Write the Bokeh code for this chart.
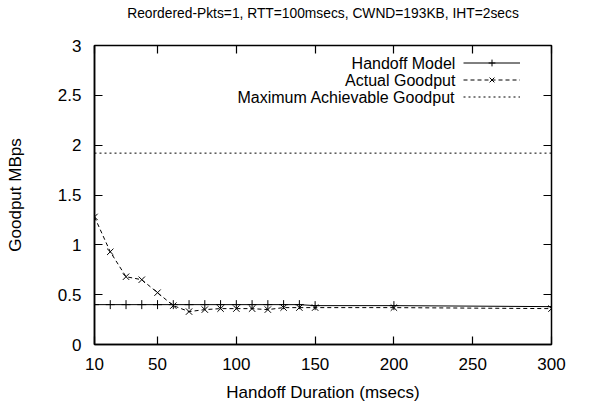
from bokeh.plotting import figure
from bokeh.models import FixedTicker, LinearAxis, Legend, LegendItem, Range1d, Label
from bokeh.embed import file_html
from bokeh.resources import INLINE

handoff_ms = [10, 20, 30, 40, 50, 60, 70, 80, 90, 100, 110, 120, 130, 140, 150, 200, 300]
model_goodput = [0.40, 0.40, 0.40, 0.40, 0.40, 0.40, 0.40, 0.40, 0.40, 0.40, 0.40, 0.40, 0.40, 0.40, 0.39, 0.39, 0.38]
actual_goodput = [1.28, 0.93, 0.68, 0.65, 0.52, 0.39, 0.33, 0.35, 0.36, 0.36, 0.36, 0.35, 0.37, 0.37, 0.37, 0.37, 0.36]
max_goodput = 1.92
x_ticks = [10, 50, 100, 150, 200, 250, 300]
y_ticks = [0, 0.5, 1, 1.5, 2, 2.5, 3]
y_tick_labels = ["0", "0.5", "1", "1.5", "2", "2.5", "3"]
series_names = ["Handoff Model", "Actual Goodput", "Maximum Achievable Goodput"]
title_text = "Reordered-Pkts=1, RTT=100msecs, CWND=193KB, IHT=2secs"

FONT = "Liberation Sans"

p = figure(width=595, height=406, output_backend="svg", toolbar_location=None,
           x_range=Range1d(10, 300), y_range=Range1d(0, 3),
           min_border_left=94, min_border_right=44, min_border_top=45, min_border_bottom=62)
p.title = None
p.grid.visible = False
p.outline_line_color = "black"
p.outline_line_width = 1.5
p.background_fill_color = "white"
p.border_fill_color = "white"

p.xaxis.ticker = FixedTicker(ticks=x_ticks)
p.yaxis.ticker = FixedTicker(ticks=y_ticks)
p.yaxis.major_label_overrides = {t: l for t, l in zip(y_ticks, y_tick_labels)}
p.xaxis.axis_label = "Handoff Duration (msecs)"
p.yaxis.axis_label = "Goodput MBps"
for ax in [p.xaxis[0], p.yaxis[0]]:
    ax.major_tick_in = 8
    ax.major_tick_out = 0
    ax.minor_tick_in = 0
    ax.minor_tick_out = 0
    ax.axis_line_color = "black"
    ax.axis_line_width = 1.5
    ax.major_tick_line_color = "black"
    ax.major_tick_line_width = 1.2
    ax.major_label_text_font = FONT
    ax.major_label_text_font_size = "17px"
    ax.major_label_text_color = "black"
    ax.axis_label_text_font = FONT
    ax.axis_label_text_font_size = "17px"
    ax.axis_label_text_font_style = "normal"
    ax.axis_label_text_color = "black"
p.xaxis.major_label_standoff = 13
p.yaxis.major_label_standoff = 13
p.xaxis.axis_label_standoff = 10
p.yaxis.axis_label_standoff = 30

# mirrored ticks; the top axis also carries the chart title
top = LinearAxis(ticker=FixedTicker(ticks=x_ticks),
                 major_label_overrides={t: "" for t in x_ticks},
                 major_tick_in=8, major_tick_out=0, minor_tick_in=0, minor_tick_out=0,
                 major_label_standoff=0,
                 axis_label=title_text, axis_label_text_font=FONT,
                 axis_label_text_font_size="13.8px", axis_label_text_font_style="normal",
                 axis_label_text_color="black", axis_label_standoff=25,
                 axis_line_color="black", major_tick_line_color="black", major_tick_line_width=1.2)
right = LinearAxis(ticker=FixedTicker(ticks=y_ticks),
                   major_label_overrides={t: "" for t in y_ticks},
                   major_tick_in=8, major_tick_out=0, minor_tick_in=0, minor_tick_out=0,
                   major_label_standoff=0,
                   axis_line_color="black", major_tick_line_color="black", major_tick_line_width=1.2)
p.add_layout(top, "above")
p.add_layout(right, "right")

l1 = p.line(handoff_ms, model_goodput, line_color="black", line_width=1)
m1 = p.scatter(handoff_ms, model_goodput, marker="cross", size=9, line_color="black", line_width=1)
l2 = p.line(handoff_ms, actual_goodput, line_color="black", line_width=1, line_dash="4 3")
m2 = p.scatter(handoff_ms, actual_goodput, marker="x", size=9, line_color="black", line_width=1)
l3 = p.line([handoff_ms[0], handoff_ms[-1]], [max_goodput, max_goodput], line_color="black",
            line_width=1, line_dash="2 3")

# gnuplot-style key: samples on the right, right-aligned texts on their left
legend = Legend(items=[
    LegendItem(label=" ", renderers=[l1, m1]),
    LegendItem(label=" ", renderers=[l2, m2]),
    LegendItem(label=" ", renderers=[l3]),
], location=(369, 239), border_line_color=None, background_fill_alpha=0,
    label_text_font=FONT, label_text_font_size="1px", glyph_width=57, glyph_height=17,
    label_height=17, label_width=0, spacing=0, padding=0, margin=0, label_standoff=0)
p.add_layout(legend)

key_y = [2.82, 2.65, 2.48]
for name, ky in zip(series_names, key_y):
    p.add_layout(Label(x=239, y=ky, text=name, text_align="right", text_baseline="middle",
                       text_font=FONT, text_font_size="16px", text_color="black"))

open("out.html", "w").write(file_html(p, INLINE))
